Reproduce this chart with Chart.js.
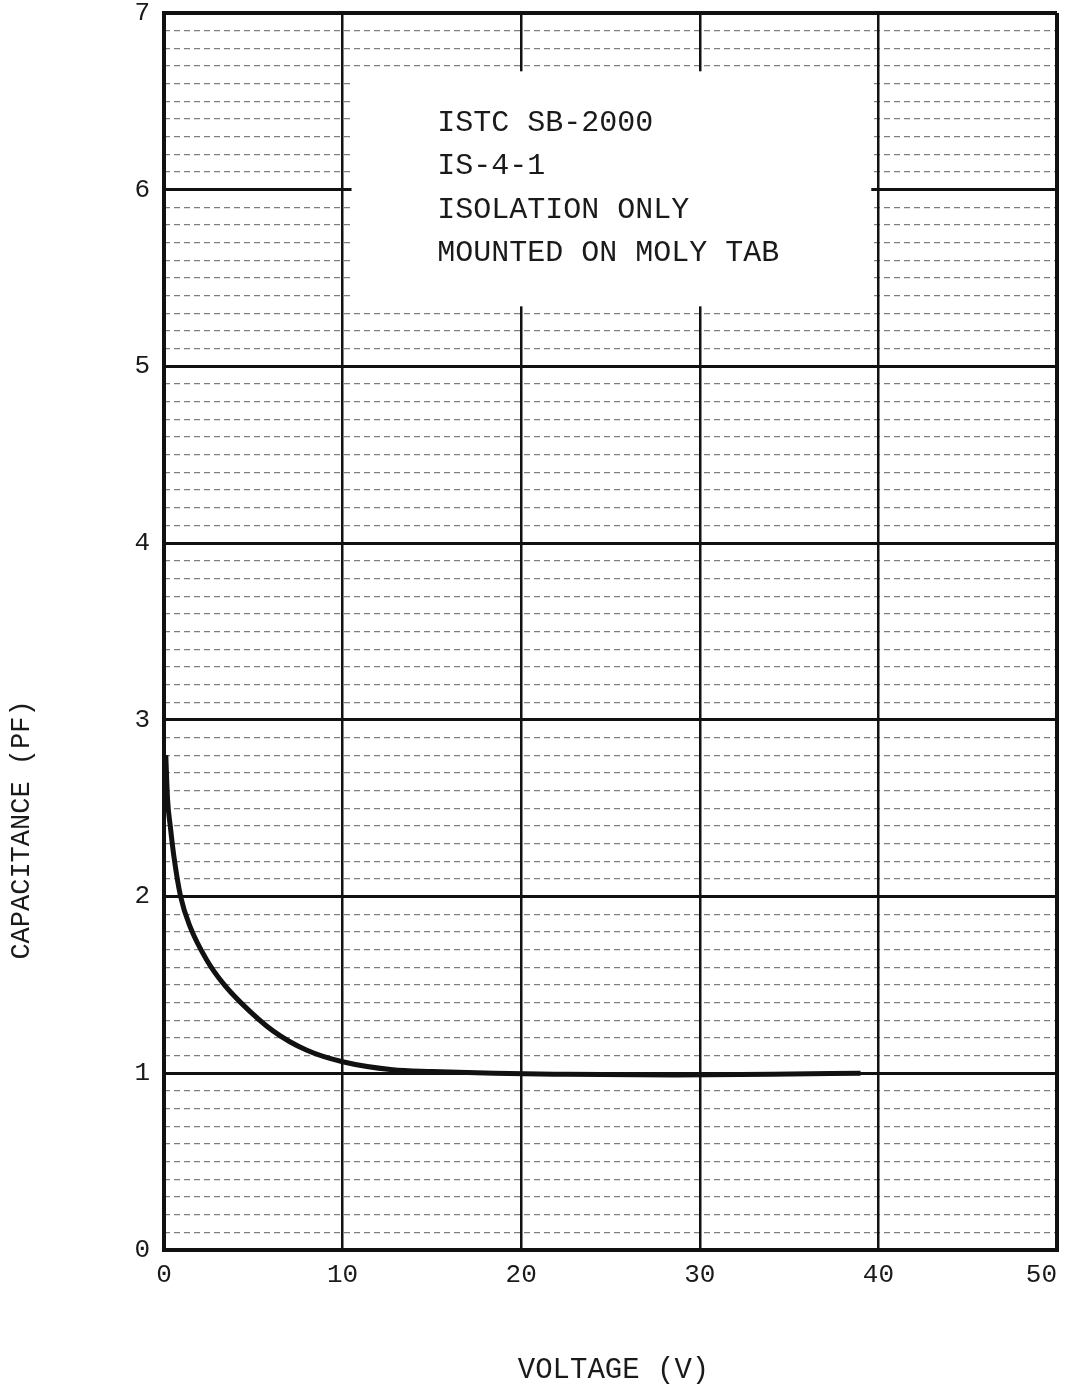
<!DOCTYPE html>
<html lang="en">
<head>
<meta charset="UTF-8">
<title>Capacitance vs Voltage</title>
<script src="https://cdn.jsdelivr.net/npm/chart.js@4.4.0/dist/chart.umd.min.js"></script>
<style>
  body { margin: 0; background: #fff; }
  .chart-wrap { width: 1065px; height: 1391px; position: relative; }
</style>
</head>
<body>
<div class="chart-wrap"><canvas id="cvChart"></canvas></div>
<script>
// curve (V, pF)
const voltage = [0.1, 0.2, 0.35, 0.55, 0.93, 1.46, 2.4, 3.3, 4.3, 6.1, 8.0, 10.0, 12.8, 15.0, 18.5, 22.0, 28.6, 34.0, 39.0];
const capacitance = [2.8, 2.55, 2.4, 2.23, 2.0, 1.83, 1.64, 1.51, 1.40, 1.24, 1.13, 1.065, 1.02, 1.01, 1.0, 0.995, 0.99, 0.995, 1.0];
const xTicks = [0, 10, 20, 30, 40, 50];
const yTicks = [0, 1, 2, 3, 4, 5, 6, 7];
const noteLines = ['ISTC SB-2000', 'IS-4-1', 'ISOLATION ONLY', 'MOUNTED ON MOLY TAB'];
const xTitle = 'VOLTAGE (V)';
const yTitle = 'CAPACITANCE (PF)';

const MONO = '"Courier New", "Liberation Mono", monospace';
const INK = '#1a1a1a';

const points = voltage.map((v, i) => ({ x: v, y: capacitance[i] }));

// white label box over the grid + axis titles
const notePlugin = {
    id: 'note',
    beforeDatasetsDraw(chart) {
        const { ctx, scales: { x, y } } = chart;
        ctx.save();
        ctx.fillStyle = '#fff';
        const l = x.getPixelForValue(10.5), r = x.getPixelForValue(39.6);
        const t = y.getPixelForValue(6.67), b = y.getPixelForValue(5.34);
        ctx.fillRect(l, t, r - l, b - t);
        ctx.fillStyle = INK;
        ctx.font = '30px ' + MONO;
        ctx.textBaseline = 'middle';
        noteLines.forEach((s, i) => {
            ctx.fillText(s, x.getPixelForValue(15.3), y.getPixelForValue(6.38 - i * 0.247));
        });
        ctx.restore();
    },
    afterDraw(chart) {
        const { ctx, chartArea } = chart;
        ctx.save();
        ctx.fillStyle = INK;
        ctx.textAlign = 'center';
        ctx.textBaseline = 'middle';
        ctx.font = '29px ' + MONO;
        ctx.fillText(xTitle, (chartArea.left + chartArea.right) / 2 + 3, 1370);
        ctx.translate(22, 830);
        ctx.rotate(-Math.PI / 2);
        ctx.font = '27px ' + MONO;
        ctx.fillText(yTitle, 0, 0);
        ctx.restore();
    }
};

const isInt = v => Math.abs(v - Math.round(v)) < 1e-6;

new Chart(document.getElementById('cvChart'), {
    type: 'line',
    data: {
        datasets: [{
            data: points,
            borderColor: '#111',
            borderWidth: 5,
            pointRadius: 0,
            cubicInterpolationMode: 'monotone',
            fill: false
        }]
    },
    options: {
        responsive: true,
        maintainAspectRatio: false,
        animation: false,
        layout: { padding: { top: 13, right: 8, left: 0, bottom: 0 } },
        plugins: { legend: { display: false }, tooltip: { enabled: false } },
        scales: {
            yMinor: {
                type: 'linear',
                position: 'left',
                min: 0,
                max: 7,
                afterFit: s => { s.width = 0; s.paddingTop = 0; s.paddingBottom = 0; },
                ticks: { display: false, stepSize: 0.1, autoSkip: false },
                grid: {
                    drawTicks: false,
                    lineWidth: 1.3,
                    color: c => isInt(c.tick.value) ? 'rgba(0,0,0,0)' : 'rgba(40,40,40,0.6)'
                },
                border: { display: false, dash: [6, 4] }
            },
            x: {
                type: 'linear',
                min: 0,
                max: 50,
                afterFit: s => { s.height = 141; s.paddingLeft = 0; s.paddingRight = 0; },
                afterBuildTicks: s => { s.ticks = xTicks.map(v => ({ value: v })); },
                ticks: {
                    color: INK,
                    font: { family: MONO, size: 26 },
                    padding: 10,
                    maxRotation: 0,
                    // last label sits flush with the right edge
                    callback: v => v === 50 ? '50  ' : String(v)
                },
                grid: {
                    drawTicks: false,
                    color: '#111',
                    lineWidth: c => (c.tick.value === 0 || c.tick.value === 50) ? 4 : 2.5
                },
                border: { color: '#111', width: 4 }
            },
            y: {
                type: 'linear',
                position: 'left',
                min: 0,
                max: 7,
                afterFit: s => { s.width = 164; s.paddingTop = 0; s.paddingBottom = 0; },
                afterBuildTicks: s => { s.ticks = yTicks.map(v => ({ value: v })); },
                ticks: { color: INK, font: { family: MONO, size: 26 }, padding: 14 },
                grid: {
                    drawTicks: false,
                    color: '#111',
                    lineWidth: c => (c.tick.value === 0 || c.tick.value === 7) ? 4 : 3
                },
                border: { color: '#111', width: 4 }
            }
        }
    },
    plugins: [notePlugin]
});
</script>
</body>
</html>
